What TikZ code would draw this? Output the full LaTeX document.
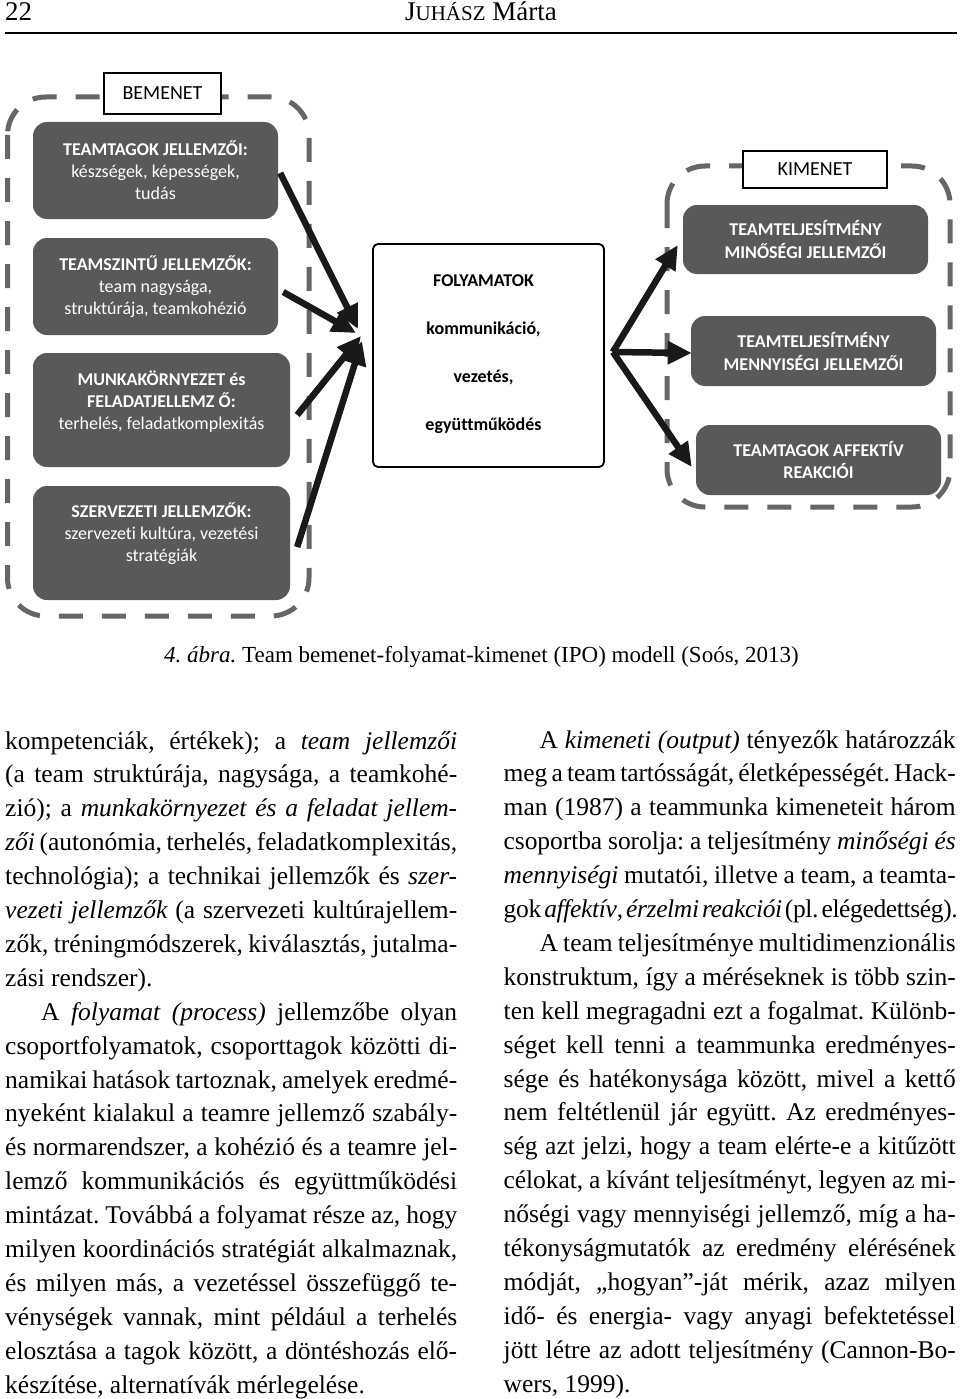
\documentclass[tikz,border=0pt]{standalone}
\usepackage{fontspec}
\setmainfont{Liberation Serif}[WordSpace={1,1.3,1.5}]
\newfontfamily\diagfont{Carlito}[Ligatures=NoCommon]
\usetikzlibrary{arrows.meta,calc}
\definecolor{boxgray}{RGB}{89,89,89}
\definecolor{dashgray}{RGB}{102,102,102}
\newlength\colw \setlength\colw{452pt}
\newcommand\jl[1]{\hbox to\colw{#1}}
\newcommand\tightl[2]{\hbox to\colw{\addfontfeature{LetterSpace=#1}#2}}
\newcommand\lastl[1]{\hbox to\colw{#1\hfil}}
\newcommand\parind{\hskip 36pt}
\frenchspacing
\begin{document}
\begin{tikzpicture}[x=1pt,y=-1pt,
  dashframe/.style={draw=dashgray, line width=5pt, dash pattern=on 24pt off 19pt, rounded corners=38pt},
  darkbox/.style={fill=boxgray, rounded corners=14pt, inner sep=0pt},
  boxtext/.style={text=white, font=\diagfont\fontsize{18}{22}\selectfont, align=center, inner sep=0pt},
  titlebox/.style={draw=black, line width=1.8pt, fill=white, inner sep=0pt, font=\diagfont\fontsize{20}{22}\selectfont},
  procbox/.style={draw=black, line width=1.8pt, fill=white, rounded corners=5pt, inner sep=0pt},
  bigarrow/.style={draw=black!90, line width=6.5pt, -{Triangle[length=24pt,width=22pt]}},
  body/.style={anchor=base west, inner sep=0pt}
]
\useasboundingbox (0,0) rectangle (960,1399);
\fill[white] (0,0) rectangle (960,1399);

% header
\node[anchor=base west, inner sep=0pt] (pnum) at (5,21) {\fontsize{27}{30}\selectfont 22};
\node[anchor=base, inner sep=0pt] (runhead) at (481,21) {\fontsize{27}{30}\selectfont J{\fontsize{21}{24}\selectfont UHÁSZ} Márta};
\draw[line width=1.2pt] (5,33) -- (957,33);

% dashed frames
\draw[dashframe] (7.5,97) rectangle (309,616);
\draw[dashframe] (667,166) rectangle (950,507);

% title boxes
\node[titlebox, minimum width=117pt, minimum height=41pt] (bem) at (162.5,93.5) {BEMENET};
\node[titlebox, minimum width=144pt, minimum height=37pt] (kim) at (815,169.5) {KIMENET};

% input boxes
\node[darkbox, minimum width=245pt, minimum height=97pt] (in1) at (155.5,170.5) {};
\node[boxtext] (in1t) at (in1.center) {\textbf{TEAMTAGOK JELLEMZŐI:}\\készségek, képességek,\\tudás};
\node[darkbox, minimum width=245pt, minimum height=97pt] (in2) at (155.5,286.5) {};
\node[boxtext] (in2t) at (in2.center) {\textbf{TEAMSZINTŰ JELLEMZŐK:}\\team nagysága,\\struktúrája, teamkohézió};
\node[darkbox, minimum width=257pt, minimum height=114pt] (in3) at (161.5,410) {};
\node[boxtext] (in3t) at ([yshift=8pt]in3.center) {\textbf{MUNKAKÖRNYEZET és}\\\textbf{FELADATJELLEMZ Ő:}\\terhelés, feladatkomplexitás};
\node[darkbox, minimum width=257pt, minimum height=114pt] (in4) at (161.5,543) {};
\node[boxtext] (in4t) at ([yshift=9pt]in4.center) {\textbf{SZERVEZETI JELLEMZŐK:}\\szervezeti kultúra, vezetési\\stratégiák};

% process box
\node[procbox, minimum width=231pt, minimum height=223pt] (fol) at (488.5,355.5) {};
\node[align=center, inner sep=0pt, font=\diagfont\bfseries\fontsize{18}{48}\selectfont] (folt) at ([xshift=-5pt,yshift=1pt]fol.center) {FOLYAMATOK\\kommunikáció,\\vezetés,\\együttműködés};

% output boxes
\node[darkbox, minimum width=245pt, minimum height=69pt] (out1) at (805.5,239.5) {};
\node[boxtext, font=\diagfont\bfseries\fontsize{18}{23}\selectfont] (out1t) at (out1.center) {TEAMTELJESÍTMÉNY\\MINŐSÉGI JELLEMZŐI};
\node[darkbox, minimum width=245pt, minimum height=70pt] (out2) at (813.5,351) {};
\node[boxtext, font=\diagfont\bfseries\fontsize{18}{23}\selectfont] (out2t) at (out2.center) {TEAMTELJESÍTMÉNY\\MENNYISÉGI JELLEMZŐI};
\node[darkbox, minimum width=245pt, minimum height=70pt] (out3) at (818.5,460) {};
\node[boxtext, font=\diagfont\bfseries\fontsize{18}{22}\selectfont] (out3t) at (out3.center) {TEAMTAGOK AFFEKTÍV\\REAKCIÓI};

% arrows into process
\coordinate (t1) at (358,329);
\coordinate (t2) at (356,333);
\coordinate (t3) at (361,336);
\coordinate (t4) at (362,341);
\draw[bigarrow] ($(in1.east)+(2,2.5)$) -- (t1);
\draw[bigarrow] ($(in2.east)+(5,5.5)$) -- (t2);
\draw[bigarrow] ($(in3.east)+(7,5)$) -- (t3);
\draw[bigarrow] ($(in4.east)+(7,4)$) -- (t4);

% arrows out of process
\coordinate (fork) at ($(fol.east)+(8,-3.5)$);
\draw[bigarrow] (fork) -- ($(out1.west)+(-5,5.5)$);
\draw[bigarrow] (fork) -- ($(out2.west)+(1,2)$);
\draw[bigarrow] (fork) -- ($(out3.west)+(-4,7)$);

% caption
\node[anchor=base, inner sep=0pt] (cap) at (481.5,662) {\fontsize{23}{27}\selectfont\textit{4. ábra.} Team bemenet-folyamat-kimenet (IPO) modell (Soós, 2013)};

% left column
\node[body] (colL) at (5,749) {\vtop{\fontsize{25.5}{33.9}\selectfont
\jl{kompetenciák, értékek); a \textit{team jellemzői}}
\jl{(a team struktúrája, nagysága, a teamkohé-}
\jl{zió); a \textit{munkakörnyezet és a feladat jellem-}}
\jl{\textit{zői} (autonómia, terhelés, feladatkomplexitás,}
\jl{technológia); a technikai jellemzők és \textit{szer-}}
\jl{\textit{vezeti jellemzők} (a szervezeti kultúrajellem-}
\jl{zők, tréningmódszerek, kiválasztás, jutalma-}
\lastl{zási rendszer).}
\jl{\parind A \textit{folyamat (process)} jellemzőbe olyan}
\jl{csoportfolyamatok, csoporttagok közötti di-}
\jl{namikai hatások tartoznak, amelyek eredmé-}
\jl{nyeként kialakul a teamre jellemző szabály-}
\jl{és normarendszer, a kohézió és a teamre jel-}
\jl{lemző kommunikációs és együttműködési}
\jl{mintázat. Továbbá a folyamat része az, hogy}
\jl{milyen koordinációs stratégiát alkalmaznak,}
\jl{és milyen más, a vezetéssel összefüggő te-}
\jl{vénységek vannak, mint például a terhelés}
\jl{elosztása a tagok között, a döntéshozás elő-}
\lastl{készítése, alternatívák mérlegelése.}
}};

% right column
\node[body] (colR) at (503.5,748) {\vtop{\fontsize{25.5}{33.9}\selectfont
\jl{\parind A \textit{kimeneti (output)} tényezők határozzák}
\tightl{-0.6}{meg a team tartósságát, életképességét. Hack-}
\jl{man (1987) a teammunka kimeneteit három}
\tightl{-0.3}{csoportba sorolja: a teljesítmény \textit{minőségi és}}
\jl{\textit{mennyiségi} mutatói, illetve a team, a teamta-}
\tightl{-1.4}{gok \textit{affektív}, \textit{érzelmi reakciói} (pl. elégedettség).}
\jl{\parind A team teljesítménye multidimenzionális}
\jl{konstruktum, így a méréseknek is több szin-}
\jl{ten kell megragadni ezt a fogalmat. Különb-}
\jl{séget kell tenni a teammunka eredményes-}
\jl{sége és hatékonysága között, mivel a kettő}
\jl{nem feltétlenül jár együtt. Az eredményes-}
\jl{ség azt jelzi, hogy a team elérte-e a kitűzött}
\tightl{-0.3}{célokat, a kívánt teljesítményt, legyen az mi-}
\jl{nőségi vagy mennyiségi jellemző, míg a ha-}
\jl{tékonyságmutatók az eredmény elérésének}
\jl{módját, „hogyan”-ját mérik, azaz milyen}
\jl{idő- és energia- vagy anyagi befektetéssel}
\jl{jött létre az adott teljesítmény (Cannon-Bo-}
\lastl{wers, 1999).}
}};
\end{tikzpicture}
\end{document}
